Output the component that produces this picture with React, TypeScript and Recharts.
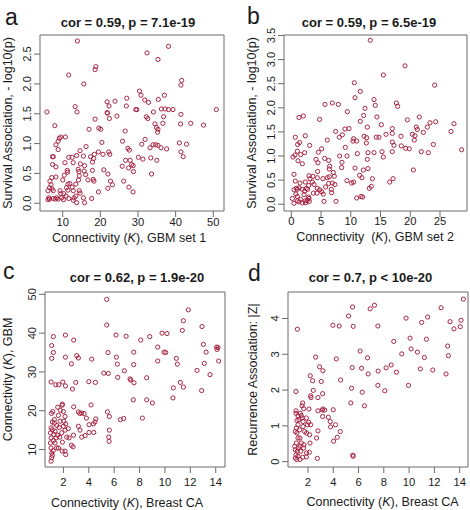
import React from 'react';
import { ScatterChart, Scatter, XAxis, YAxis, ReferenceArea } from 'recharts';

const FONT = '"Liberation Sans", Arial, Helvetica, sans-serif';
const POINT = '#a31c3c';
const BOX = '#6b6b6b';
const TXT = '#1a1a1a';

// Panel a: Connectivity (K), GBM set 1 vs Survival Association
const panelA: [number, number][] = [
  [13.9,2.72],[32.4,2.52],[38.1,2.63],[35.3,2.41],[18.8,2.29],[18.6,2.24],[11.6,2.15],[41.6,2.06],[41.4,1.98],[15.6,2.0],
  [30.4,1.88],[30.8,1.81],[27.0,1.76],[37.0,1.81],[35.4,1.74],[31.8,1.73],[32.8,1.69],[21.8,1.70],[23.9,1.71],[22.3,1.63],
  [26.9,1.63],[13.3,1.62],[13.8,1.53],[5.8,1.53],[21.8,1.52],[21.9,1.51],[29.4,1.57],[29.7,1.57],[36.2,1.58],[37.2,1.58],
  [38.1,1.57],[39.3,1.57],[34.1,1.53],[41.4,1.49],[50.8,1.57],[24.4,1.46],[18.6,1.41],[22.4,1.42],[32.2,1.45],[32.6,1.42],
  [36.8,1.45],[7.9,1.30],[17.0,1.24],[19.6,1.26],[20.1,1.24],[26.6,1.21],[34.5,1.33],[36.6,1.34],[34.9,1.27],[35.3,1.24],
  [35.2,1.19],[41.3,1.33],[44.0,1.34],[47.4,1.31],[9.1,1.09],[9.5,1.11],[10.7,1.11],[8.8,1.04],[8.2,0.98],[20.4,1.02],
  [25.9,1.04],[31.9,1.07],[31.0,0.99],[34.0,0.98],[34.7,0.98],[35.3,0.97],[33.2,0.93],[36.1,0.93],[37.6,0.91],[41.0,1.01],
  [42.9,0.99],[16.2,0.95],[27.3,0.92],[27.7,0.89],[41.4,0.86],[42.0,0.78],[8.8,0.90],[14.6,0.88],[7.3,0.78],[7.5,0.78],
  [11.6,0.77],[12.5,0.77],[13.7,0.80],[15.5,0.79],[17.4,0.78],[18.4,0.82],[19.5,0.86],[20.7,0.82],[22.2,0.86],[22.5,0.82],
  [18.2,0.75],[10.6,0.68],[12.8,0.68],[14.7,0.66],[17.9,0.69],[7.3,0.65],[8.2,0.61],[15.8,0.63],[26.7,0.72],[27.9,0.72],
  [28.3,0.65],[28.7,0.63],[30.1,0.77],[31.3,0.74],[33.4,0.76],[35.0,0.72],[25.8,0.62],[27.5,0.59],[28.8,0.53],[11.2,0.55],
  [11.3,0.52],[14.1,0.57],[14.3,0.53],[15.7,0.54],[17.9,0.55],[20.9,0.56],[22.0,0.49],[33.6,0.49],[8.2,0.44],[7.1,0.43],
  [10.4,0.47],[14.4,0.46],[16.1,0.48],[10.0,0.39],[6.6,0.37],[6.9,0.31],[6.5,0.26],[6.1,0.21],[7.2,0.24],[7.5,0.21],
  [11.4,0.32],[11.9,0.33],[14.2,0.39],[16.7,0.39],[18.1,0.40],[18.3,0.37],[22.7,0.37],[23.2,0.31],[26.2,0.37],[11.0,0.26],
  [11.4,0.22],[12.5,0.27],[13.5,0.32],[12.8,0.21],[14.4,0.21],[14.6,0.17],[9.3,0.21],[9.5,0.16],[10.3,0.16],[10.9,0.12],
  [9.7,0.09],[8.4,0.09],[7.5,0.08],[6.5,0.07],[6.3,0.09],[8.0,0.07],[8.8,0.07],[11.6,0.08],[13.0,0.09],[13.5,0.12],
  [13.7,0.01],[15.8,0.01],[15.5,0.09],[17.7,0.08],[19.5,0.19],[22.0,0.25],[27.6,0.27],[28.7,0.19],[6.1,0.06],[12.8,0.05],[10.2,0.06],
];

// Panel b: Connectivity (K), GBM set 2 vs Survival Association
const panelB: [number, number][] = [
  [13.28,3.40],[19.11,2.87],[15.47,2.68],[24.10,2.47],[10.59,2.52],[10.71,2.21],[11.60,2.34],[13.90,2.17],[14.12,2.05],[17.66,2.10],
  [17.88,2.03],[5.66,2.07],[6.89,2.10],[7.90,2.07],[12.39,1.99],[9.42,1.92],[12.16,1.84],[1.29,1.80],[2.02,1.83],[4.76,1.76],
  [11.60,1.72],[14.40,1.81],[19.51,1.75],[21.52,1.81],[23.32,1.69],[24.27,1.71],[27.35,1.67],[26.85,1.51],[12.78,1.60],[15.13,1.65],
  [16.98,1.57],[9.02,1.56],[9.70,1.57],[7.45,1.51],[21.02,1.60],[21.19,1.55],[22.87,1.60],[22.20,1.49],[0.67,1.39],[2.35,1.42],
  [1.40,1.28],[1.06,1.24],[3.08,1.22],[6.05,1.33],[8.07,1.39],[8.58,1.44],[10.48,1.36],[10.37,1.31],[10.99,1.31],[12.22,1.41],
  [12.67,1.38],[12.61,1.27],[14.29,1.39],[14.74,1.39],[15.92,1.45],[16.98,1.47],[18.44,1.41],[20.35,1.45],[20.79,1.42],[20.68,1.33],
  [23.88,1.24],[28.64,1.13],[16.98,1.29],[17.26,1.22],[18.50,1.21],[19.23,1.16],[19.84,1.15],[21.86,1.09],[23.04,1.07],[16.98,1.09],
  [15.25,1.09],[15.47,0.98],[13.90,1.07],[12.89,1.07],[11.10,1.05],[9.08,1.18],[9.36,1.00],[8.13,1.00],[4.54,1.08],[5.10,1.15],
  [1.01,1.10],[0.28,0.98],[0.62,1.02],[1.57,1.03],[2.24,1.07],[1.12,0.90],[1.85,0.84],[4.15,0.93],[4.48,0.86],[5.61,0.95],
  [6.28,0.91],[6.45,0.79],[6.39,0.73],[8.52,0.87],[8.46,0.76],[10.71,0.75],[12.78,0.93],[12.11,0.71],[12.89,0.74],[20.52,0.71],
  [0.45,0.62],[0.67,0.48],[1.46,0.44],[2.35,0.46],[2.97,0.59],[3.14,0.53],[2.91,0.39],[3.53,0.46],[3.81,0.41],[4.43,0.68],
  [4.37,0.55],[3.64,0.58],[5.32,0.53],[6.05,0.55],[6.39,0.57],[7.06,0.66],[7.23,0.58],[6.28,0.43],[5.77,0.36],[6.89,0.44],
  [7.34,0.41],[6.73,0.31],[4.76,0.30],[5.10,0.26],[5.38,0.21],[4.37,0.33],[9.36,0.49],[10.15,0.44],[10.48,0.46],[11.49,0.60],
  [11.88,0.55],[13.62,0.53],[13.12,0.33],[13.45,0.37],[16.54,0.46],[17.10,0.53],[0.84,0.33],[1.01,0.31],[1.29,0.34],[1.85,0.31],
  [0.45,0.30],[2.24,0.27],[2.52,0.33],[2.75,0.31],[0.78,0.21],[1.01,0.16],[2.13,0.20],[2.91,0.15],[2.97,0.12],[2.69,0.08],
  [2.30,0.07],[1.57,0.10],[1.29,0.05],[1.85,0.03],[2.41,0.03],[1.01,0.07],[0.17,0.12],[0.45,0.02],[3.03,0.06],[3.70,0.23],
  [4.32,0.23],[5.49,0.06],[7.51,0.06],[10.99,0.13],[11.72,0.16],[12.00,0.15],[6.78,0.24],
];

// Panel c: Connectivity (K), Breast CA vs Connectivity (K), GBM
const panelC: [number, number][] = [
  [5.41,48.7],[5.41,42.1],[11.84,46.0],[11.45,43.2],[11.37,40.7],[12.92,41.7],[13.03,37.1],[13.24,35.1],[13.10,32.2],[14.07,36.4],
  [14.18,36.3],[14.10,35.8],[14.23,32.8],[12.53,30.4],[13.55,29.3],[12.89,25.2],[11.21,27.3],[11.45,26.1],[10.66,25.9],[10.63,23.3],
  [10.90,33.5],[10.98,32.0],[9.77,40.0],[10.16,39.9],[9.43,36.4],[9.93,35.1],[10.06,35.0],[9.43,32.8],[8.80,39.1],[8.09,38.2],
  [6.94,39.2],[6.15,39.5],[7.54,35.1],[7.54,31.9],[6.80,30.3],[7.25,28.2],[7.30,27.9],[7.56,27.2],[8.56,28.5],[7.51,22.8],
  [8.56,22.8],[9.01,22.0],[6.28,28.6],[6.25,32.0],[6.17,33.8],[5.52,35.0],[5.18,29.7],[5.54,29.6],[4.23,33.3],[4.00,27.5],
  [4.52,27.3],[2.97,27.3],[2.71,25.6],[2.16,26.4],[1.95,27.4],[1.63,26.7],[1.40,26.7],[1.03,27.4],[1.21,39.1],[2.16,39.5],
  [2.81,38.2],[1.08,36.8],[1.21,35.0],[1.08,33.5],[2.16,33.8],[2.63,32.1],[3.05,34.2],[3.18,33.6],[5.47,19.7],[5.62,18.5],
  [5.62,15.0],[5.57,13.2],[5.60,12.1],[6.49,17.7],[6.75,18.0],[8.22,18.1],[4.18,21.5],[2.81,21.0],[3.18,19.7],[3.29,19.3],
  [3.63,19.3],[3.44,19.4],[3.81,18.1],[4.55,17.9],[4.49,17.1],[4.02,16.4],[4.36,16.6],[3.18,16.0],[3.31,15.0],[3.44,13.2],
  [3.71,13.6],[4.02,14.4],[4.39,14.4],[2.79,13.7],[2.45,13.0],[2.26,13.2],[2.63,11.1],[2.76,10.7],[2.13,9.6],[2.18,8.7],
  [1.90,9.6],[1.61,10.4],[1.92,21.7],[1.90,21.4],[1.55,20.9],[1.16,19.8],[1.06,19.3],[2.00,19.8],[2.13,18.5],[2.03,17.3],
  [2.18,16.6],[1.74,17.3],[1.48,16.2],[1.29,17.7],[1.13,17.1],[1.03,15.6],[0.98,14.3],[1.03,13.0],[0.98,11.7],[1.03,10.4],
  [1.08,9.1],[1.13,8.5],[1.19,9.7],[1.03,7.0],[1.08,7.9],[1.34,14.7],[1.42,13.0],[1.55,13.7],[1.71,13.2],[1.87,14.3],
  [2.00,16.0],[2.13,15.0],[1.34,11.7],[1.48,10.4],[1.21,12.3],[1.29,16.8],[1.61,18.8],[1.76,20.1],[1.13,15.1],[1.24,13.9],
  [1.66,15.7],[1.92,11.9],[2.39,15.4],
];

// Panel d: Connectivity (K), Breast CA vs Recurrence Association |Z|
const panelD: [number, number][] = [
  [14.29,4.54],[12.53,4.30],[14.11,3.95],[14.05,3.77],[13.55,3.71],[13.24,3.91],[11.47,4.04],[11.0,3.89],[9.76,4.01],[7.53,3.79],
  [7.26,4.37],[6.92,4.27],[5.53,4.32],[5.21,4.07],[5.58,3.78],[4.47,3.79],[3.97,3.81],[1.16,3.70],[10.08,3.45],[8.79,3.36],
  [11.37,3.42],[13.05,3.23],[13.11,2.96],[10.16,3.15],[10.66,3.06],[11.21,2.91],[9.42,3.01],[6.13,3.09],[4.24,2.87],[6.71,2.90],
  [2.61,2.92],[2.92,2.65],[3.18,2.54],[2.18,2.40],[2.37,2.26],[3.05,2.24],[4.58,2.28],[5.50,2.63],[6.24,2.61],[6.76,2.45],
  [7.55,2.53],[8.18,2.62],[8.58,2.70],[9.0,2.50],[10.89,2.59],[11.87,2.56],[12.92,2.45],[9.95,2.13],[7.53,2.13],[8.08,1.98],
  [5.45,2.05],[6.29,1.94],[5.39,1.64],[6.47,1.56],[1.05,1.96],[2.42,1.99],[2.21,1.84],[2.24,1.79],[2.79,1.79],[3.16,1.90],
  [1.58,1.64],[1.53,1.56],[1.66,1.48],[2.08,1.47],[1.05,1.42],[1.05,1.35],[1.21,1.28],[1.39,1.35],[1.47,1.29],[1.53,1.22],
  [1.29,1.17],[1.13,1.15],[1.61,1.12],[1.87,1.22],[2.05,1.10],[2.21,1.03],[3.13,1.44],[3.18,1.47],[3.32,1.44],[2.79,1.42],
  [3.16,1.26],[3.61,1.24],[4.0,1.45],[3.76,1.12],[3.79,0.97],[4.18,1.03],[4.55,0.84],[4.32,0.68],[4.03,0.57],[2.79,0.86],
  [2.68,0.66],[1.21,1.03],[1.08,0.94],[1.0,0.84],[1.13,0.80],[1.34,0.89],[1.37,0.66],[1.47,0.52],[1.68,0.47],[2.16,0.52],
  [2.13,0.75],[1.89,0.80],[1.95,1.03],[1.21,0.66],[1.08,0.52],[0.95,0.43],[1.0,0.33],[1.16,0.29],[1.05,0.19],[1.21,0.15],
  [1.0,0.10],[1.11,0.06],[1.37,0.06],[1.58,0.12],[1.89,0.24],[2.11,0.26],[1.87,0.13],[2.74,0.09],[5.55,0.18],[5.58,0.15],
  [1.37,0.43],[1.66,0.38],[1.42,0.29],[1.26,0.38],[1.61,0.98],[1.74,0.84],
];

const aXTicks = [10, 20, 30, 40, 50];
const aYTicks = [0, 0.5, 1, 1.5, 2, 2.5];
const bXTicks = [0, 5, 10, 15, 20, 25];
const bYTicks = [0, 0.5, 1, 1.5, 2, 2.5, 3, 3.5];
const cXTicks = [2, 4, 6, 8, 10, 12, 14];
const cYTicks = [10, 20, 30, 40, 50];
const dXTicks = [2, 4, 6, 8, 10, 12, 14];
const dYTicks = [0, 1, 2, 3, 4];

const titles = ['cor = 0.59, p = 7.1e-19', 'cor = 0.59, p = 6.5e-19', 'cor = 0.62, p = 1.9e-20', 'cor = 0.7, p < 10e-20'];
const letters = ['a', 'b', 'c', 'd'];

type PanelProps = {
  left: number; top: number; width: number; height: number;
  pts: [number, number][];
  xDomain: [number, number]; yDomain: [number, number];
  xTicks: number[]; yTicks: number[];
  yFmt: (v: number) => string;
  box: { l: number; t: number; r: number; b: number };
  xTickOff: number;
};

const TICK_FS = 11.2;

function Panel(p: PanelProps) {
  const data = p.pts.map(([x, y]) => ({ x, y }));
  const bl = p.box.l - p.left;
  const bt = p.box.t - p.top;
  const br = p.box.r - p.left;
  const bb = p.box.b - p.top;
  const yLabX = bl - 13.5;
  return (
    <div style={{ position: 'absolute', left: p.left, top: p.top }}>
      <ScatterChart width={p.width} height={p.height} margin={{ top: bt, right: p.width - br, bottom: 0, left: 0 }}>
        <XAxis
          type="number" dataKey="x" domain={p.xDomain} ticks={p.xTicks} allowDataOverflow interval={0}
          height={p.height - bb} tickSize={6} axisLine={false} tickLine={{ stroke: BOX }}
          tick={(t: any) => (
            <text x={t.x} y={bb + p.xTickOff} textAnchor="middle" dy="0.36em" fontSize={TICK_FS} fill={TXT} fontFamily={FONT}>
              {String(t.payload.value)}
            </text>
          )}
        />
        <YAxis
          type="number" dataKey="y" domain={p.yDomain} ticks={p.yTicks} allowDataOverflow interval={0}
          width={bl} tickSize={6} axisLine={false} tickLine={{ stroke: BOX }}
          tick={(t: any) => (
            <text x={yLabX} y={t.y} transform={`rotate(-90 ${yLabX} ${t.y})`} textAnchor="middle" dy="0.36em" fontSize={TICK_FS} fill={TXT} fontFamily={FONT}>
              {p.yFmt(t.payload.value)}
            </text>
          )}
        />
        <ReferenceArea x1={p.xDomain[0]} x2={p.xDomain[1]} y1={p.yDomain[0]} y2={p.yDomain[1]} fill="none" fillOpacity={0} stroke={BOX} strokeWidth={1} ifOverflow="visible" />
        <Scatter
          data={data} isAnimationActive={false}
          shape={(s: any) => <circle cx={s.cx} cy={s.cy} r={2.1} fill="none" stroke={POINT} strokeWidth={0.95} />}
        />
      </ScatterChart>
    </div>
  );
}

const f1 = (v: number) => v.toFixed(1);
const f0 = (v: number) => String(v);

export default function App() {
  const tStyle = { fontFamily: FONT, fill: TXT } as const;
  return (
    <div style={{ position: 'absolute', left: 0, top: 0, width: 470, height: 510, background: '#fff' }}>
      <Panel left={0} top={0} width={235} height={255} pts={panelA} xDomain={[3.97, 52.84]} yDomain={[-0.13, 2.82]}
        xTicks={aXTicks} yTicks={aYTicks} yFmt={f1} box={{ l: 40, t: 35, r: 224, b: 211 }} xTickOff={10.5} />
      <Panel left={235} top={0} width={235} height={255} pts={panelB} xDomain={[-1.23, 29.54]} yDomain={[-0.14, 3.51]}
        xTicks={bXTicks} yTicks={bYTicks} yFmt={f1} box={{ l: 284, t: 35, r: 467, b: 211 }} xTickOff={10} />
      <Panel left={0} top={255} width={235} height={255} pts={panelC} xDomain={[0.55, 14.73]} yDomain={[5.5, 50.6]}
        xTicks={cXTicks} yTicks={cYTicks} yFmt={f0} box={{ l: 45, t: 292, r: 225, b: 467 }} xTickOff={15} />
      <Panel left={235} top={255} width={235} height={255} pts={panelD} xDomain={[0.42, 14.66]} yDomain={[-0.15, 4.74]}
        xTicks={dXTicks} yTicks={dYTicks} yFmt={f0} box={{ l: 288, t: 292, r: 468, b: 467 }} xTickOff={15} />
      <svg width={470} height={510} style={{ position: 'absolute', left: 0, top: 0, pointerEvents: 'none' }}>
        <text x={5} y={25} fontSize={23} {...tStyle}>{letters[0]}</text>
        <text x={247} y={23.5} fontSize={23} {...tStyle}>{letters[1]}</text>
        <text x={3} y={278.5} fontSize={23} {...tStyle}>{letters[2]}</text>
        <text x={248} y={281} fontSize={23} {...tStyle}>{letters[3]}</text>

        <text x={128} y={27} fontSize={13} fontWeight="bold" textAnchor="middle" {...tStyle}>{titles[0]}</text>
        <text x={369} y={27} fontSize={13} fontWeight="bold" textAnchor="middle" {...tStyle}>{titles[1]}</text>
        <text x={137} y={282} fontSize={13} fontWeight="bold" textAnchor="middle" {...tStyle}>{titles[2]}</text>
        <text x={370.5} y={282} fontSize={13} fontWeight="bold" textAnchor="middle" {...tStyle}>{titles[3]}</text>

        <text x={129} y={238} dy="0.35em" fontSize={12.5} textAnchor="middle" {...tStyle}>
          Connectivity (<tspan fontStyle="italic">K</tspan>), GBM set 1
        </text>
        <text x={375} y={237} dy="0.35em" fontSize={12.5} textAnchor="middle" style={{ whiteSpace: 'pre' }} {...tStyle}>
          {'Connectivity  ('}<tspan fontStyle="italic">K</tspan>{'), GBM set 2'}
        </text>
        <text x={127} y={502.5} dy="0.35em" fontSize={12.5} textAnchor="middle" {...tStyle}>
          Connectivity (<tspan fontStyle="italic">K</tspan>), Breast CA
        </text>
        <text x={382.5} y={502} dy="0.35em" fontSize={12.5} textAnchor="middle" {...tStyle}>
          Connectivity (<tspan fontStyle="italic">K</tspan>), Breast CA
        </text>

        <text x={8} y={123} dy="0.35em" fontSize={12.5} textAnchor="middle" transform="rotate(-90 8 123)" {...tStyle}>
          Survival Association, - log10(p)
        </text>
        <text x={252} y={123} dy="0.35em" fontSize={12.5} textAnchor="middle" transform="rotate(-90 252 123)" {...tStyle}>
          Survival Association, - log10(p)
        </text>
        <text x={8} y={379.5} dy="0.35em" fontSize={12.5} textAnchor="middle" transform="rotate(-90 8 379.5)" {...tStyle}>
          Connectivity (<tspan fontStyle="italic">K</tspan>), GBM
        </text>
        <text x={252.5} y={379.5} dy="0.35em" fontSize={12.5} textAnchor="middle" transform="rotate(-90 252.5 379.5)" {...tStyle}>
          Recurrence Association: |Z|
        </text>
      </svg>
    </div>
  );
}
